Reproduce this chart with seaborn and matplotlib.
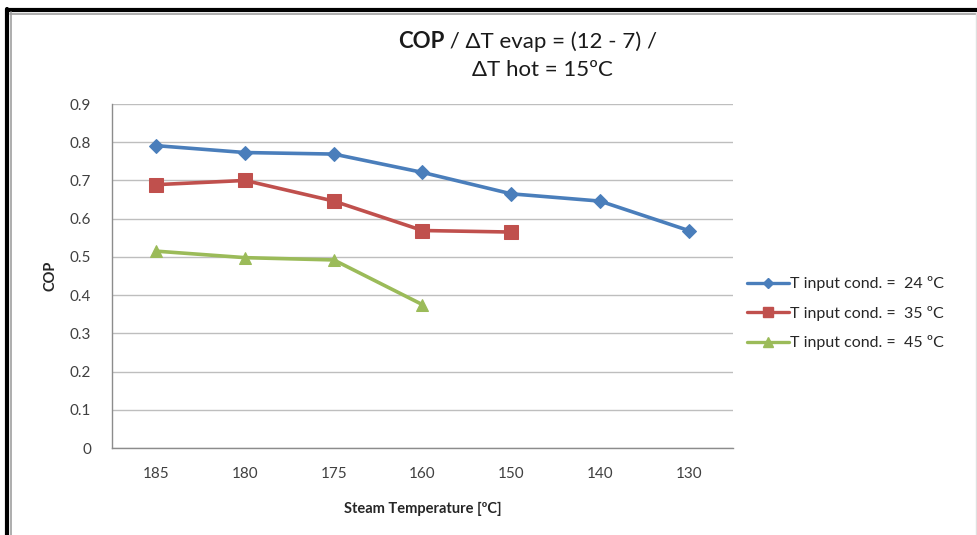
import numpy as np
import pandas as pd
import matplotlib
matplotlib.use("Agg")
import matplotlib.pyplot as plt
from matplotlib.lines import Line2D
from matplotlib.ticker import FixedLocator
import seaborn as sns

# Steam temperature categories (ºC) and COP per condenser inlet temperature
steam_temp = ["185", "180", "175", "160", "150", "140", "130"]
cop_24 = [0.791, 0.773, 0.769, 0.721, 0.665, 0.646, 0.569]
cop_35 = [0.689, 0.700, 0.646, 0.569, 0.565]
cop_45 = [0.515, 0.498, 0.492, 0.375]
series_labels = ["T input cond. =  24 ºC", "T input cond. =  35 ºC", "T input cond. =  45 ºC"]
y_ticks = [0, 0.1, 0.2, 0.3, 0.4, 0.5, 0.6, 0.7, 0.8, 0.9]

sns.set_theme(style="white")
plt.rcParams["font.family"] = ["Lato", "DejaVu Sans"]

rows = []
for label, vals in zip(series_labels, [cop_24, cop_35, cop_45]):
    for i, v in enumerate(vals):
        rows.append({"pos": i, "COP": v, "series": label})
df = pd.DataFrame(rows)

W, H = 978, 535
fig = plt.figure(figsize=(W / 100, H / 100), dpi=100)
fig.patch.set_facecolor("white")
ax = fig.add_axes([112 / W, 1 - 448 / H, (733 - 112) / W, (448 - 104) / H])

palette = {series_labels[0]: "#4A7EBB", series_labels[1]: "#C0504D", series_labels[2]: "#9BBB59"}
markers = {series_labels[0]: "D", series_labels[1]: "s", series_labels[2]: "^"}
sizes = {series_labels[0]: 7, series_labels[1]: 10, series_labels[2]: 9}

for label in series_labels:
    sub = df[df["series"] == label]
    sns.lineplot(data=sub, x="pos", y="COP", ax=ax, color=palette[label],
                 marker=markers[label], markersize=sizes[label],
                 markeredgecolor=palette[label], linewidth=2.6,
                 sort=False, label=label, legend=False)

ax.set_xlim(-0.5, len(steam_temp) - 0.5)
ax.set_ylim(0, 0.9)
ax.set_yticks(y_ticks)
ax.set_yticklabels([f"{t:g}" for t in y_ticks])
ax.set_xticks(range(len(steam_temp)))
ax.set_xticklabels(steam_temp)
ax.xaxis.set_minor_locator(FixedLocator(np.arange(-0.5, len(steam_temp), 1.0)))

ax.grid(axis="y", color="#BEBEBE", linewidth=1.0)
ax.set_axisbelow(True)
for side in ["top", "right"]:
    ax.spines[side].set_visible(False)
for side in ["left", "bottom"]:
    ax.spines[side].set_color("#8C8C8C")
    ax.spines[side].set_linewidth(1.0)

ax.tick_params(axis="x", which="major", length=0, pad=14, labelsize=11, labelcolor="#404040")
ax.tick_params(axis="x", which="minor", length=6, width=1, color="#8C8C8C", direction="out")
ax.tick_params(axis="y", which="major", length=5, width=1, color="#8C8C8C", direction="out",
               pad=10, labelsize=11, labelcolor="#404040")

ax.set_xlabel("Steam Temperature [ºC]", fontsize=10.5, fontweight="bold", color="#262626", labelpad=15)
ax.set_ylabel("COP", fontsize=10.5, fontweight="bold", color="#262626", labelpad=9)

# Two-line title, first word in bold
t1 = fig.text(398 / W, 1 - 42 / H, "COP", fontsize=16, fontweight="bold", color="#1A1A1A",
              ha="left", va="center")
fig.canvas.draw()
ax.annotate(" / ΔT evap = (12 - 7) /", xy=(1, 0), xycoords=t1, fontsize=16,
            color="#1A1A1A", ha="left", va="bottom")
fig.text(542 / W, 1 - 70 / H, "ΔT hot = 15ºC", fontsize=16, color="#1A1A1A",
         ha="center", va="center")

handles = [Line2D([], [], color=palette[l], marker=markers[l], markersize=sizes[l] * 0.75,
                  linewidth=2.4) for l in series_labels]
fig.legend(handles, series_labels, loc="upper left", bbox_to_anchor=(733 / W, 1 - 262 / H),
           frameon=False, fontsize=11.5, handlelength=2.6, handletextpad=0.1,
           labelspacing=0.9, labelcolor="#262626")

# Frame around the chart area
border = [
    ((7, 7), (9, H), "black", 3.0),
    ((7, W), (10, 10), "black", 3.0),
    ((10.5, 10.5), (12, H), "#A0A0A0", 1.2),
    ((10, W), (13.5, 13.5), "#A0A0A0", 1.2),
    ((976.5, 976.5), (13, H), "#E0E0E0", 1.0),
]
for xs, ys, c, lw in border:
    fig.add_artist(Line2D([x / W for x in xs], [1 - y / H for y in ys],
                          transform=fig.transFigure, color=c, linewidth=lw))

fig.savefig("out.png", dpi=100, facecolor="white")
